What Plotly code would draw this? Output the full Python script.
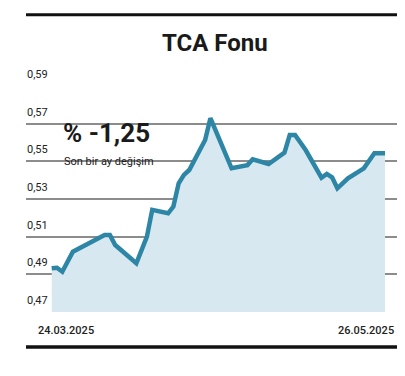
import plotly.graph_objects as go
from datetime import datetime, timedelta

# ---- data ----
dates = ["2025-03-24", "2025-03-25", "2025-03-26", "2025-03-28", "2025-04-03",
         "2025-04-04", "2025-04-05", "2025-04-09", "2025-04-11", "2025-04-12",
         "2025-04-15", "2025-04-16", "2025-04-17", "2025-04-18", "2025-04-19",
         "2025-04-22", "2025-04-23", "2025-04-27", "2025-04-30", "2025-05-01",
         "2025-05-04", "2025-05-07", "2025-05-08", "2025-05-09", "2025-05-11",
         "2025-05-14", "2025-05-15", "2025-05-16", "2025-05-17", "2025-05-19",
         "2025-05-22", "2025-05-24", "2025-05-26"]
values = [0.4932, 0.4935, 0.4914, 0.5020, 0.5109,
          0.5109, 0.5056, 0.4959, 0.5100, 0.5242,
          0.5224, 0.5260, 0.5383, 0.5428, 0.5454,
          0.5613, 0.5729, 0.5463, 0.5480, 0.5511,
          0.5486, 0.5546, 0.5640, 0.5640, 0.5560,
          0.5413, 0.5433, 0.5415, 0.5357, 0.5410,
          0.5463, 0.5543, 0.5543]
y_ticks = [0.47, 0.49, 0.51, 0.53, 0.55, 0.57, 0.59]
y_tick_labels = ["0,47", "0,49", "0,51", "0,53", "0,55", "0,57", "0,59"]
x_labels = ["24.03.2025", "26.05.2025"]
title = "TCA Fonu"
change_value = "% -1,25"
change_label = "Son bir ay değişim"

FONT = "Roboto, Liberation Sans, sans-serif"
LINE = "#2d86a5"
FILL = "#d8e8f0"
GRID = "#8c8c8c"

# the page body has an 8px margin; work in page pixels and subtract it
OFF = 8
W, H = 405 - OFF, 376 - OFF
PL, PR, PT, PB = 26, 400, 86, 312          # plot area in page pixels
L, R, T, B = PL - OFF, (W + OFF) - PR, PT - OFF, (H + OFF) - PB
pw, ph = PR - PL, PB - PT

def px(xp):
    return (xp - PL) / pw

def py(yp):
    return (PB - yp) / ph

d0 = datetime.fromisoformat(dates[0])
d1 = datetime.fromisoformat(dates[-1])
x_start = d0 - timedelta(days=4.86)
x_end = d1 + timedelta(days=2.84)

fig = go.Figure()
fig.add_trace(go.Scatter(
    x=dates, y=values, mode="lines",
    line=dict(color=LINE, width=4.5),
    fill="tozeroy", fillcolor=FILL,
    hoverinfo="skip", showlegend=False,
))

annotations = []
for v, lab in zip(y_ticks, y_tick_labels):
    annotations.append(dict(
        x=0, xref="paper", y=v, yref="y", text=lab, showarrow=False,
        xanchor="left", yanchor="bottom", yshift=3, xshift=-1,
        font=dict(family=FONT, size=11, color="#222222"),
    ))
annotations.append(dict(
    x=px(66), xref="paper", y=py(330), yref="paper", text=x_labels[0],
    showarrow=False, xanchor="center", yanchor="middle",
    font=dict(family=FONT, size=11, color="#222222", weight=500),
))
annotations.append(dict(
    x=px(366), xref="paper", y=py(330), yref="paper", text=x_labels[1],
    showarrow=False, xanchor="center", yanchor="middle",
    font=dict(family=FONT, size=11, color="#222222", weight=500),
))
annotations.append(dict(
    x=px(215), xref="paper", y=py(43), yref="paper",
    text=f"<b>{title}</b>", showarrow=False, xanchor="center", yanchor="middle",
    font=dict(family=FONT, size=24, color="#1a1a1a"),
))
annotations.append(dict(
    x=px(61), xref="paper", y=py(133), yref="paper",
    text=f"<b>{change_value}</b>", showarrow=False, xanchor="left", yanchor="middle",
    font=dict(family=FONT, size=26, color="#1a1a1a"),
))
annotations.append(dict(
    x=px(62), xref="paper", y=py(161), yref="paper",
    text=change_label, showarrow=False, xanchor="left", yanchor="middle",
    font=dict(family=FONT, size=11, color="#1a1a1a"),
))

shapes = [
    # white box behind the change text (breaks gridlines)
    dict(type="rect", xref="paper", yref="paper",
         x0=px(57), x1=px(142), y0=py(168), y1=py(116),
         fillcolor="white", line=dict(width=0), layer="between"),
    # top rule
    dict(type="line", xref="paper", yref="paper",
         x0=px(26), x1=px(400), y0=py(14.7), y1=py(14.7),
         line=dict(color="#111111", width=3)),
    # bottom rule
    dict(type="line", xref="paper", yref="paper",
         x0=px(26), x1=px(398), y0=py(347), y1=py(347),
         line=dict(color="#111111", width=3.5)),
]

fig.update_layout(
    width=W, height=H,
    margin=dict(l=L, r=R, t=T, b=B),
    paper_bgcolor="white", plot_bgcolor="white",
    xaxis=dict(type="date", range=[x_start, x_end], showgrid=False,
               zeroline=False, showticklabels=False, ticks="", showline=False),
    yaxis=dict(range=[0.47, 0.59], tickvals=y_ticks, showticklabels=False,
               showgrid=True, gridcolor=GRID, gridwidth=1.6, zeroline=False,
               ticks="", showline=False),
    annotations=annotations,
    shapes=shapes,
    showlegend=False,
)

fig.write_html("out.html")
